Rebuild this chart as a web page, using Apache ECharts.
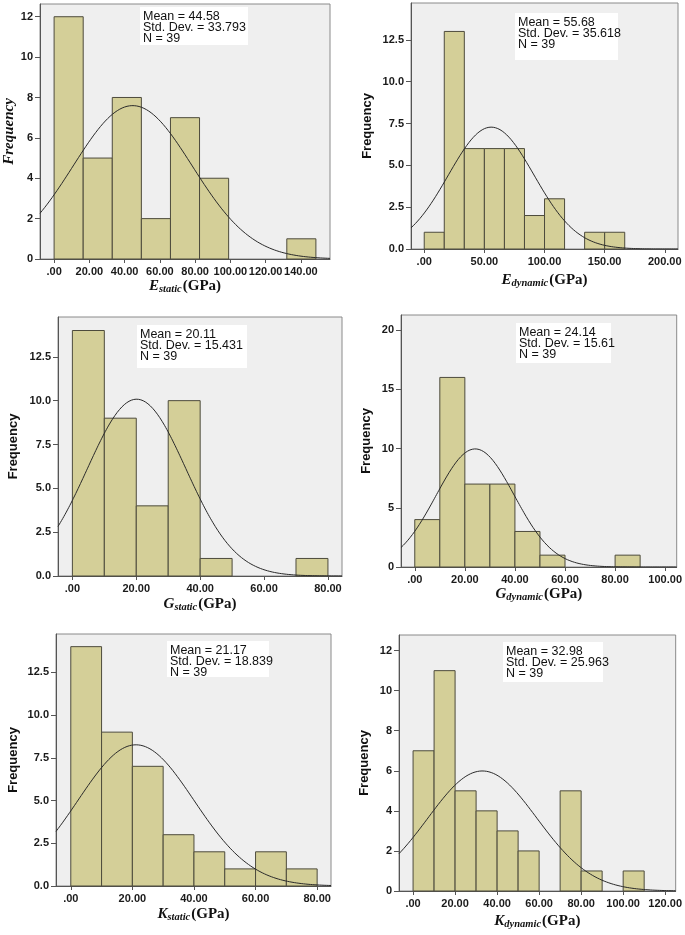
<!DOCTYPE html>
<html>
<head>
<meta charset="utf-8">
<script src="https://cdn.jsdelivr.net/npm/echarts@6/dist/echarts.min.js"></script>
<style>html,body{margin:0;padding:0;background:#fff;}#c{width:685px;height:935px;}</style>
</head>
<body>
<div id="c"></div>
<script>
// ---- data ----
const eStaticCounts = [12, 5, 8, 2, 7, 4, 0, 0, 1];
const eStaticBinWidth = 16.5;
const eDynamicCounts = [1, 13, 6, 6, 6, 2, 3, 0, 1, 1];
const eDynamicBinWidth = 16.67;
const gStaticCounts = [14, 9, 4, 10, 1, 0, 0, 1];
const gStaticBinWidth = 10;
const gDynamicCounts = [4, 16, 7, 7, 3, 1, 0, 0, 1];
const gDynamicBinWidth = 10;
const kStaticCounts = [14, 9, 7, 3, 2, 1, 2, 1];
const kStaticBinWidth = 10;
const kDynamicCounts = [7, 11, 5, 4, 3, 2, 0, 5, 1, 0, 1];
const kDynamicBinWidth = 10;

const means = [44.58, 55.68, 20.11, 24.14, 21.17, 32.98];
const stdDevs = [33.793, 35.618, 15.431, 15.61, 18.839, 25.963];
const nValues = [39, 39, 39, 39, 39, 39];
const meanLabels = ['44.58', '55.68', '20.11', '24.14', '21.17', '32.98'];
const sdLabels = ['33.793', '35.618', '15.431', '15.61', '18.839', '25.963'];

const xTicksEStatic = [0, 20, 40, 60, 80, 100, 120, 140];
const yTicksEStatic = [0, 2, 4, 6, 8, 10, 12];
const xTicksEDynamic = [0, 50, 100, 150, 200];
const yTicksEDynamic = [0, 2.5, 5, 7.5, 10, 12.5];
const xTicksGStatic = [0, 20, 40, 60, 80];
const yTicksGStatic = [0, 2.5, 5, 7.5, 10, 12.5];
const xTicksGDynamic = [0, 20, 40, 60, 80, 100];
const yTicksGDynamic = [0, 5, 10, 15, 20];
const xTicksKStatic = [0, 20, 40, 60, 80];
const yTicksKStatic = [0, 2.5, 5, 7.5, 10, 12.5];
const xTicksKDynamic = [0, 20, 40, 60, 80, 100, 120];
const yTicksKDynamic = [0, 2, 4, 6, 8, 10, 12];

const subscripts = ['static', 'dynamic', 'static', 'dynamic', 'static', 'dynamic'];
const symbols = ['E', 'E', 'G', 'G', 'K', 'K'];

// ---- layout ----
const panels = [
  {counts: eStaticCounts, bw: eStaticBinWidth, xt: xTicksEStatic, yt: yTicksEStatic, yDec: 0,
   grid: {left: 40, top: 4, width: 290, height: 255}, xr: [-8, 156.5], yMax: 12.63,
   yGap: 22, xGap: 18, yItalic: true, box: [140, 7, 108, 38]},
  {counts: eDynamicCounts, bw: eDynamicBinWidth, xt: xTicksEDynamic, yt: yTicksEDynamic, yDec: 1,
   grid: {left: 411, top: 3, width: 267, height: 246}, xr: [-11, 211], yMax: 14.7,
   yGap: 37, xGap: 22, yItalic: false, box: [515, 13, 103, 47]},
  {counts: gStaticCounts, bw: gStaticBinWidth, xt: xTicksGStatic, yt: yTicksGStatic, yDec: 1,
   grid: {left: 58, top: 317, width: 284, height: 259}, xr: [-4.5, 84.4], yMax: 14.77,
   yGap: 38, xGap: 19, yItalic: false, box: [137, 325, 110, 43]},
  {counts: gDynamicCounts, bw: gDynamicBinWidth, xt: xTicksGDynamic, yt: yTicksGDynamic, yDec: 0,
   grid: {left: 401, top: 315, width: 279, height: 252}, xr: [-5.5, 104.6], yMax: 21.27,
   yGap: 28, xGap: 18, yItalic: false, box: [516, 323, 95, 40]},
  {counts: kStaticCounts, bw: kStaticBinWidth, xt: xTicksKStatic, yt: yTicksKStatic, yDec: 1,
   grid: {left: 56, top: 634, width: 275, height: 252}, xr: [-4.8, 84.5], yMax: 14.74,
   yGap: 36, xGap: 19, yItalic: false, box: [167, 641, 102, 36]},
  {counts: kDynamicCounts, bw: kDynamicBinWidth, xt: xTicksKDynamic, yt: yTicksKDynamic, yDec: 0,
   grid: {left: 399, top: 635, width: 279, height: 256}, xr: [-6.7, 125], yMax: 12.78,
   yGap: 28, xGap: 21, yItalic: false, box: [503, 642, 100, 40]}
];

const SERIF = '"Liberation Serif", "DejaVu Serif", serif';
const SANS = '"Liberation Sans", Arial, sans-serif';

const grids = [], xAxes = [], yAxes = [], series = [], graphics = [];

panels.forEach((p, i) => {
  grids.push(Object.assign({show: true, backgroundColor: '#efefef', borderColor: '#8a8a8a', borderWidth: 1}, p.grid));
  xAxes.push({
    type: 'value', gridIndex: i, min: p.xr[0], max: p.xr[1],
    axisLine: {show: true, onZero: false, lineStyle: {color: '#555', width: 1}},
    axisTick: {show: true, length: 4, customValues: p.xt, lineStyle: {color: '#555'}},
    splitLine: {show: false},
    axisLabel: {customValues: p.xt, color: '#1a1a1a', fontFamily: SANS, fontWeight: 'bold', fontSize: 11, margin: 7,
      formatter: v => v === 0 ? '.00' : v.toFixed(2)},
    name: '{v|' + symbols[i] + '}{s|' + subscripts[i] + '}{u|(GPa)}',
    nameLocation: 'middle', nameGap: p.xGap,
    nameTextStyle: {
      rich: {
        v: {fontFamily: SERIF, fontStyle: 'italic', fontWeight: 'bold', fontSize: 15, color: '#111'},
        s: {fontFamily: SERIF, fontStyle: 'italic', fontWeight: 'bold', fontSize: 10.5, color: '#111', padding: [7, 1, 0, 0]},
        u: {fontFamily: SERIF, fontWeight: 'bold', fontSize: 15, color: '#111'}
      }
    }
  });
  yAxes.push({
    type: 'value', gridIndex: i, min: 0, max: p.yMax,
    axisLine: {show: true, onZero: false, lineStyle: {color: '#555', width: 1}},
    axisTick: {show: true, length: 5, customValues: p.yt, lineStyle: {color: '#555'}},
    splitLine: {show: false},
    axisLabel: {customValues: p.yt, color: '#1a1a1a', fontFamily: SANS, fontWeight: 'bold', fontSize: 11, margin: 7,
      formatter: v => v.toFixed(p.yDec)},
    name: 'Frequency', nameLocation: 'middle', nameGap: p.yGap,
    nameTextStyle: p.yItalic
      ? {fontFamily: SERIF, fontStyle: 'italic', fontWeight: 'bold', fontSize: 15, color: '#111'}
      : {fontFamily: SANS, fontWeight: 'bold', fontSize: 13, color: '#111'}
  });
  const bins = [];
  p.counts.forEach((c, k) => { if (c > 0) bins.push([k * p.bw, (k + 1) * p.bw, c]); });
  series.push({
    type: 'custom', xAxisIndex: i, yAxisIndex: i, data: bins, encode: {x: [0, 1], y: 2}, z: 2,
    renderItem: (params, api) => {
      const a = api.coord([api.value(0), api.value(2)]);
      const b = api.coord([api.value(1), 0]);
      return {type: 'rect', shape: {x: a[0], y: a[1], width: b[0] - a[0], height: b[1] - a[1]},
        style: {fill: '#d4cf98', stroke: '#4d4b3c', lineWidth: 1}};
    }
  });
  // fitted normal curve from the Mean / Std. Dev. / N printed on the chart
  const m = means[i], sd = stdDevs[i], n = nValues[i];
  const pts = [];
  const steps = 240;
  for (let s = 0; s <= steps; s++) {
    const x = p.xr[0] + (p.xr[1] - p.xr[0]) * s / steps;
    const y = n * p.bw / (sd * Math.sqrt(2 * Math.PI)) * Math.exp(-0.5 * Math.pow((x - m) / sd, 2));
    pts.push([x, y]);
  }
  series.push({
    type: 'line', xAxisIndex: i, yAxisIndex: i, data: pts, showSymbol: false, symbol: 'none', z: 3,
    lineStyle: {color: '#2a2a2a', width: 1}, silent: true
  });
  const bx = p.box;
  graphics.push({type: 'rect', shape: {x: bx[0], y: bx[1], width: bx[2], height: bx[3]}, style: {fill: '#ffffff'}, z: 10});
  graphics.push({type: 'text', x: bx[0] + 3, y: bx[1] + 4, z: 11,
    style: {text: 'Mean = ' + meanLabels[i] + '\nStd. Dev. = ' + sdLabels[i] + '\nN = ' + nValues[i],
      font: '12.5px ' + SANS, fill: '#111', lineHeight: 11}});
});

const chart = echarts.init(document.getElementById('c'), null, {renderer: 'canvas'});
chart.setOption({
  animation: false,
  backgroundColor: '#ffffff',
  grid: grids, xAxis: xAxes, yAxis: yAxes, series: series, graphic: graphics
});
</script>
</body>
</html>
